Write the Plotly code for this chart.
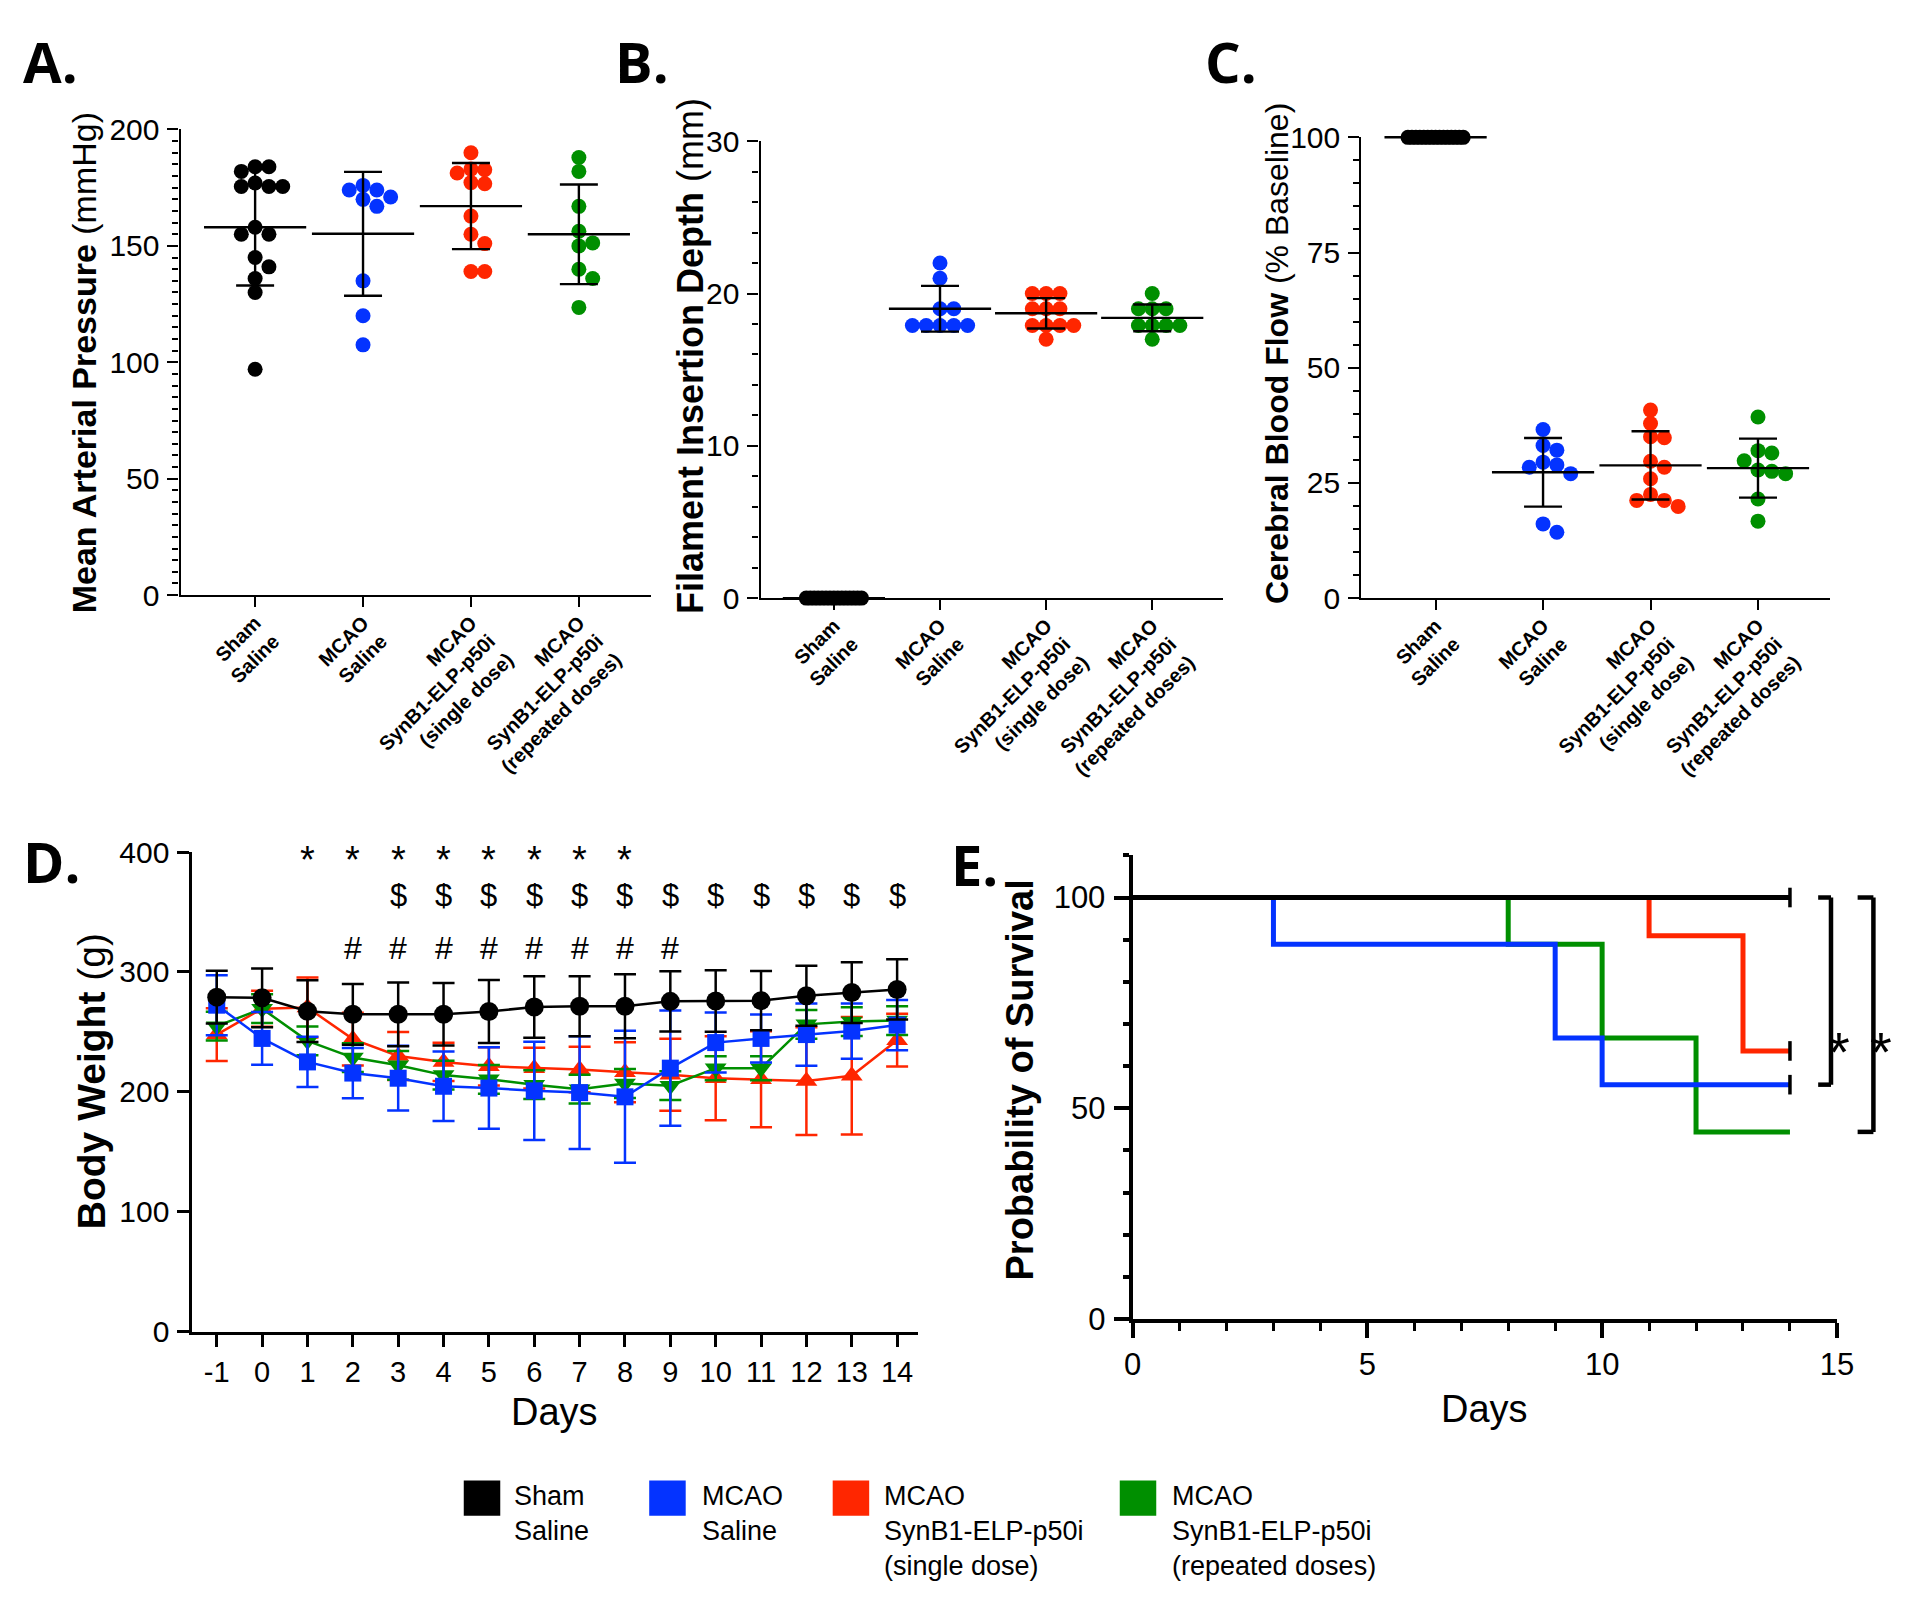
import numpy as np
import plotly.graph_objects as go

W, H = 1920, 1609
NUMF = "Liberation Sans, Arial, sans-serif"
SANS = "Liberation Sans, Arial, sans-serif"

# ---------------- data ----------------
group_labels = ["Sham<br>Saline", "MCAO<br>Saline",
                "MCAO<br>SynB1-ELP-p50i<br>(single dose)",
                "MCAO<br>SynB1-ELP-p50i<br>(repeated doses)"]
group_colors = ["#000000", "#0433FF", "#FF2600", "#008F00"]

# A. Mean arterial pressure (mmHg)
map_sham = [184, 184, 182, 177, 175.5, 175.5, 175.5, 158, 155, 155, 145, 141, 136, 130, 97]
map_mcao = [176, 174, 174, 171, 170, 167, 135, 120, 107.5]
map_single = [190, 183, 182.7, 181.3, 177.2, 176.7, 162.8, 155, 151, 139, 139]
map_repeat = [188, 182, 167, 156.3, 151.3, 150, 140, 136, 123.6]
map_mean = [158, 155.2, 167.1, 155]
map_sd = [25, 26.6, 18.5, 21.4]

# B. Filament insertion depth (mm)
fid_sham = [0, 0, 0, 0, 0, 0, 0, 0, 0, 0, 0, 0, 0, 0, 0]
fid_mcao = [22.0, 21.0, 19.0, 19.0, 17.9, 17.9, 17.9, 17.9, 17.9]
fid_single = [20, 20, 20, 19, 19, 19, 17.9, 17.9, 17.9, 17.9, 17.0]
fid_repeat = [20, 19, 19, 19, 17.9, 17.9, 17.9, 17.9, 17.0]
fid_mean = [0, 19.0, 18.7, 18.4]
fid_sd = [0, 1.5, 1.0, 0.88]

# C. Cerebral blood flow (% baseline)
cbf_sham = [100, 100, 100, 100, 100, 100, 100, 100, 100, 100, 100, 100, 100, 100, 100]
cbf_mcao = [36.6, 33.1, 32.1, 29.5, 28.9, 28.4, 27.0, 16.1, 14.3]
cbf_single = [40.8, 37.9, 35.0, 34.8, 29.7, 28.4, 25.9, 22.5, 21.2, 21.2, 19.9]
cbf_repeat = [39.3, 32.0, 31.5, 29.8, 27.8, 27.5, 27.0, 21.5, 16.7]
cbf_mean = [100, 27.3, 28.8, 28.2]
cbf_sd = [0, 7.45, 7.4, 6.4]

# D. Body weight (g)
days = [-1, 0, 1, 2, 3, 4, 5, 6, 7, 8, 9, 10, 11, 12, 13, 14]
day_labels = ["-1", "0", "1", "2", "3", "4", "5", "6", "7", "8", "9", "10", "11", "12", "13", "14"]
bw_sham = [279, 278.4, 267.3, 264.7, 264.7, 264.7, 267, 270.8, 271.4, 271.4, 275.5, 275.8, 276.1, 280.2, 282.8, 285.4]
bw_sham_sd = [22, 24.5, 25.7, 25.3, 26.6, 26, 26.3, 25.7, 25.1, 26.6, 25.1, 25.7, 24.8, 25, 25.4, 25.1]
bw_mcao = [272.3, 244.6, 225, 215.7, 211.4, 204.7, 203.2, 200.9, 199.4, 195.9, 219.8, 241.1, 244.6, 247.8, 250.7, 255.7]
bw_mcao_sd = [25, 22, 21, 21, 27, 29, 34, 41, 47, 55, 48, 25, 20, 26, 23, 21]
bw_single = [247.8, 269.4, 270.3, 244, 230, 225, 221.3, 219.8, 218.7, 216.3, 214.3, 211.4, 210.5, 209, 213.4, 243.1]
bw_single_sd = [22, 15, 25, 22, 20, 16, 16, 17, 19, 25, 30, 35, 40, 45, 49, 22]
bw_repeat = [254.8, 269.4, 242.6, 228.6, 222.2, 214, 210.5, 206, 202.3, 207, 205.2, 219.8, 219.8, 256.3, 258.6, 259.5]
bw_repeat_sd = [12, 12, 12, 12, 12, 12, 12, 12, 12, 12, 12, 10, 10, 12, 12, 12]
star_days = [1, 2, 3, 4, 5, 6, 7, 8]
dollar_days = [3, 4, 5, 6, 7, 8, 9, 10, 11, 12, 13, 14]
hash_days = [2, 3, 4, 5, 6, 7, 8, 9]

# E. Survival (%)
sv_days_sham = [0, 14]
sv_sham = [100, 100]
sv_days_mcao = [0, 3, 9, 10, 14]
sv_mcao = [100, 88.9, 66.7, 55.6, 55.6]
sv_days_single = [0, 11, 13, 14]
sv_single = [100, 90.9, 63.6, 63.6]
sv_days_repeat = [0, 8, 10, 12, 14]
sv_repeat = [100, 88.9, 66.7, 44.4, 44.4]

# ---------------- layout geometry (px) ----------------
CAT_RANGE = [-0.69, 3.67]
geo = {
    "A": dict(x0=174, x1=651, yb=591, yt=115, rng=[0, 200]),
    "B": dict(x0=762, x1=1231, yb=594, yt=127, rng=[0, 30]),
    "C": dict(x0=1371, x1=1846, yb=594, yt=123, rng=[0, 100]),
    "D": dict(x0=186, x1=921, yb=1344, yt=853.6, rng=[0, 400]),
    "E": dict(x0=1139, x1=1853, yb=1331, yt=857, rng=[0, 110]),
}
D_XRANGE = [-1.535, 14.45]
E_XRANGE = [0, 15]
STAR_Y, DOLLAR_Y, HASH_Y = 420, 380, 337   # row heights of D symbols (data units)
E_STAR_Y = 74.5


def px(x):
    return x / W


def py(y):
    return 1 - y / H


def swarm_offsets(vals, ppu_x, ppu_y, d=14.0, maxk=2):
    vals = np.asarray(vals, dtype=float)
    n = len(vals)
    xs = np.zeros(n)
    placed = []
    done = np.zeros(n, bool)
    uniq, counts = np.unique(vals, return_counts=True)
    for u, c in zip(uniq, counts):
        if c > 2 * maxk + 1:
            idx = np.where(vals == u)[0]
            pos = np.linspace(-maxk * d, maxk * d, c)
            for i, p in zip(idx, pos):
                xs[i] = p
                placed.append((p, u * ppu_y))
                done[i] = True
    cand = [0]
    for k in range(1, 12):
        cand += [k, -k]
    for i in np.argsort(-vals, kind="stable"):
        if done[i]:
            continue
        y = vals[i] * ppu_y
        xsel = 0
        for k in cand:
            x = k * d
            if all((x - a) ** 2 + (y - b) ** 2 >= (0.97 * d) ** 2 for a, b in placed):
                xsel = x
                break
        xs[i] = xsel
        placed.append((xsel, y))
    return xs / ppu_x


fig = go.Figure()

panels = [
    ("A", "x", "y", [map_sham, map_mcao, map_single, map_repeat], map_mean, map_sd),
    ("B", "x2", "y2", [fid_sham, fid_mcao, fid_single, fid_repeat], fid_mean, fid_sd),
    ("C", "x3", "y3", [cbf_sham, cbf_mcao, cbf_single, cbf_repeat], cbf_mean, cbf_sd),
]
for key, xa, ya, groups, means, sds in panels:
    g = geo[key]
    ppu_x = (g["x1"] - g["x0"]) / (CAT_RANGE[1] - CAT_RANGE[0])
    ppu_y = (g["yb"] - g["yt"]) / (g["rng"][1] - g["rng"][0])
    for gi, vals in enumerate(groups):
        off = swarm_offsets(vals, ppu_x, ppu_y)
        fig.add_trace(go.Scatter(
            x=gi + off, y=vals, mode="markers", xaxis=xa, yaxis=ya,
            marker=dict(size=15, color=group_colors[gi], line=dict(width=0)),
            cliponaxis=False, showlegend=False, hoverinfo="skip"))
    fig.add_trace(go.Scatter(
        x=[0, 1, 2, 3], y=means, mode="markers", xaxis=xa, yaxis=ya,
        marker=dict(symbol="line-ew", size=73, color="black",
                    line=dict(width=2.4, color="black")),
        error_y=dict(type="data", array=sds, symmetric=True, width=19,
                     thickness=2.4, color="black"),
        cliponaxis=False, showlegend=False, hoverinfo="skip"))

# D traces
d_series = [
    (bw_single, bw_single_sd, group_colors[2], "triangle-up", 19),
    (bw_repeat, bw_repeat_sd, group_colors[3], "triangle-down", 19),
    (bw_mcao, bw_mcao_sd, group_colors[1], "square", 17),
    (bw_sham, bw_sham_sd, group_colors[0], "circle", 19),
]
for vals, sd, col, sym, sz in d_series:
    fig.add_trace(go.Scatter(
        x=days, y=vals, mode="lines+markers", xaxis="x4", yaxis="y4",
        line=dict(color=col, width=2.5),
        marker=dict(symbol=sym, size=sz, color=col, line=dict(width=0)),
        error_y=dict(type="data", array=sd, symmetric=True, width=11,
                     thickness=2.5, color=col),
        cliponaxis=False, showlegend=False, hoverinfo="skip"))

# E traces
e_series = [
    (sv_days_repeat, sv_repeat, group_colors[3]),
    (sv_days_single, sv_single, group_colors[2]),
    (sv_days_mcao, sv_mcao, group_colors[1]),
    (sv_days_sham, sv_sham, group_colors[0]),
]
for t, s, col in e_series:
    fig.add_trace(go.Scatter(
        x=t, y=s, mode="lines", xaxis="x5", yaxis="y5",
        line=dict(color=col, width=5, shape="hv"),
        cliponaxis=False, showlegend=False, hoverinfo="skip"))
fig.add_trace(go.Scatter(
    x=[sv_days_sham[-1], sv_days_single[-1], sv_days_mcao[-1]],
    y=[sv_sham[-1], sv_single[-1], sv_mcao[-1]],
    mode="markers", xaxis="x5", yaxis="y5",
    marker=dict(symbol="line-ns", size=14, line=dict(width=3.5, color="black")),
    cliponaxis=False, showlegend=False, hoverinfo="skip"))


# ---------------- axes ----------------
def yax(g, dtick, minor_dtick, anchor, size=30, ticklen=11, lw=2.4, tickvals=None):
    d = dict(domain=[py(g["yb"]), py(g["yt"])], range=g["rng"],
             showline=True, linecolor="black", linewidth=lw,
             ticks="outside", ticklen=ticklen, tickwidth=lw, tickcolor="black",
             showgrid=False, zeroline=False, anchor=anchor,
             tickfont=dict(family=NUMF, size=size, color="black"),
             ticklabelstandoff=2, fixedrange=True)
    if tickvals is not None:
        d["tickvals"] = tickvals
    else:
        d["dtick"] = dtick
        d["tick0"] = 0
    if minor_dtick:
        d["minor"] = dict(ticks="outside", ticklen=6, tickwidth=lw,
                          dtick=minor_dtick, tick0=0, tickcolor="black")
    return d


def xcat(g, anchor):
    return dict(domain=[px(g["x0"]), px(g["x1"])], range=CAT_RANGE,
                tickvals=[0, 1, 2, 3], ticktext=group_labels, tickangle=-45,
                showline=True, linecolor="black", linewidth=2.4,
                ticks="outside", ticklen=10, tickwidth=2.4, tickcolor="black",
                showgrid=False, zeroline=False, anchor=anchor,
                tickfont=dict(family=SANS, size=20, color="black", weight="bold"),
                ticklabelstandoff=-4, fixedrange=True)


layout = dict(
    width=W, height=H, margin=dict(l=0, r=0, t=0, b=0),
    paper_bgcolor="white", plot_bgcolor="white", showlegend=False,
    xaxis=xcat(geo["A"], "y"), yaxis=yax(geo["A"], 50, 5, "x"),
    xaxis2=xcat(geo["B"], "y2"), yaxis2=yax(geo["B"], 10, 2, "x2"),
    xaxis3=xcat(geo["C"], "y3"), yaxis3=yax(geo["C"], 25, 5, "x3"),
    xaxis4=dict(domain=[px(geo["D"]["x0"]), px(geo["D"]["x1"])], range=D_XRANGE,
                tickvals=days, ticktext=day_labels, showline=True, linecolor="black",
                linewidth=3.2, ticks="outside", ticklen=12, tickwidth=3, tickcolor="black",
                showgrid=False, zeroline=False, anchor="y4",
                tickfont=dict(family=NUMF, size=29, color="black"), fixedrange=True),
    yaxis4=yax(geo["D"], 100, None, "x4", size=30, ticklen=12, lw=3.2),
    xaxis5=dict(domain=[px(geo["E"]["x0"]), px(geo["E"]["x1"])], range=E_XRANGE,
                dtick=5, tick0=0, showline=True, linecolor="black", linewidth=4,
                ticks="outside", ticklen=15, tickwidth=3.5, tickcolor="black",
                minor=dict(ticks="outside", ticklen=8, tickwidth=3, dtick=1, tick0=0,
                           tickcolor="black"),
                showgrid=False, zeroline=False, anchor="y5",
                tickfont=dict(family=NUMF, size=31, color="black"), fixedrange=True),
    yaxis5=yax(geo["E"], None, 10, "x5", size=31, ticklen=15, lw=4, tickvals=[0, 50, 100]),
)
fig.update_layout(**layout)

ann = []


def paper_text(x, y, text, size, family=SANS, xanchor="center", yanchor="middle",
               angle=0, weight="normal", align="center"):
    ann.append(dict(x=px(x), y=py(y), xref="paper", yref="paper", text=text,
                    showarrow=False, xanchor=xanchor, yanchor=yanchor, textangle=angle,
                    align=align,
                    font=dict(family=family, size=size, color="black", weight=weight)))


# panel letters
for letter, x, y in [("A.", 12, 4), ("B.", 612, 4), ("C.", 1210, 4),
                     ("D.", 12, 822), ("E.", 953, 825)]:
    paper_text(x, y, letter, 56, family="Open Sans, Liberation Sans, sans-serif",
               xanchor="left", yanchor="top", weight="bold")

# axis titles
paper_text(76, 353, "<b>Mean Arterial Pressure</b> (mmHg)", 34, angle=-90)
paper_text(691, 347, "<b>Filament Insertion Depth</b> (mm)", 36, angle=-90)
paper_text(1285, 344, "<b>Cerebral Blood Flow</b> (% Baseline)", 32, angle=-90)
paper_text(83, 1088, "<b>Body Weight</b> (g)", 39, angle=-90)
paper_text(1025, 1087, "<b>Probability of Survival</b>", 38, angle=-90)
paper_text(553, 1426, "Days", 38)
paper_text(1496, 1423, "Days", 38)

# significance symbols in D (domain-referenced in y so they may sit above the range)
d_ymax = geo["D"]["rng"][1]
for d in star_days:
    ann.append(dict(x=d, y=STAR_Y / d_ymax, xref="x4", yref="y4 domain", text="*",
                    yshift=-9, showarrow=False,
                    font=dict(family=SANS, size=38, color="black")))
for d in dollar_days:
    ann.append(dict(x=d, y=DOLLAR_Y / d_ymax, xref="x4", yref="y4 domain", text="$",
                    showarrow=False, font=dict(family=NUMF, size=31, color="black")))
for d in hash_days:
    ann.append(dict(x=d, y=HASH_Y / d_ymax, xref="x4", yref="y4 domain", text="#",
                    showarrow=False, font=dict(family=NUMF, size=32, color="black")))

# brackets in E (domain coordinates)
shapes = []
e_ymax = geo["E"]["rng"][1]
ex0, ex1 = geo["E"]["x0"], geo["E"]["x1"]


def xd(pxv):
    return (pxv - ex0) / (ex1 - ex0)


for (xv, xend, lo, starx) in [(1847, 1834, sv_mcao[-1], 1868),
                              (1890, 1874, sv_repeat[-1], 1911)]:
    top = sv_sham[-1] / e_ymax
    bot = lo / e_ymax
    ln = dict(color="black", width=4.5)
    shapes.append(dict(type="line", xref="x5 domain", yref="y5 domain",
                       x0=xd(xv), x1=xd(xv), y0=bot, y1=top, line=ln))
    shapes.append(dict(type="line", xref="x5 domain", yref="y5 domain",
                       x0=xd(xend), x1=xd(xv), y0=top, y1=top, line=ln))
    shapes.append(dict(type="line", xref="x5 domain", yref="y5 domain",
                       x0=xd(xend), x1=xd(xv), y0=bot, y1=bot, line=ln))
    ann.append(dict(x=xd(starx), y=E_STAR_Y / e_ymax, xref="x5 domain", yref="y5 domain",
                    text="*", yshift=-13, showarrow=False,
                    font=dict(family=SANS, size=56, color="black")))

# legend
leg_sq = [461, 649, 835, 1126]
leg_tx = [510, 700, 885, 1177]
for i in range(4):
    shapes.append(dict(type="rect", xref="paper", yref="paper",
                       x0=px(leg_sq[i]), x1=px(leg_sq[i] + 37), y0=py(1532), y1=py(1496),
                       fillcolor=group_colors[i], line=dict(width=0)))
    paper_text(leg_tx[i], 1494, group_labels[i], 27, xanchor="left", yanchor="top",
               align="left")

fig.update_layout(annotations=ann, shapes=shapes)
fig.write_html("out.html", config={"displayModeBar": False},
               post_script="document.body.style.margin='0';document.body.style.overflow='hidden';")
